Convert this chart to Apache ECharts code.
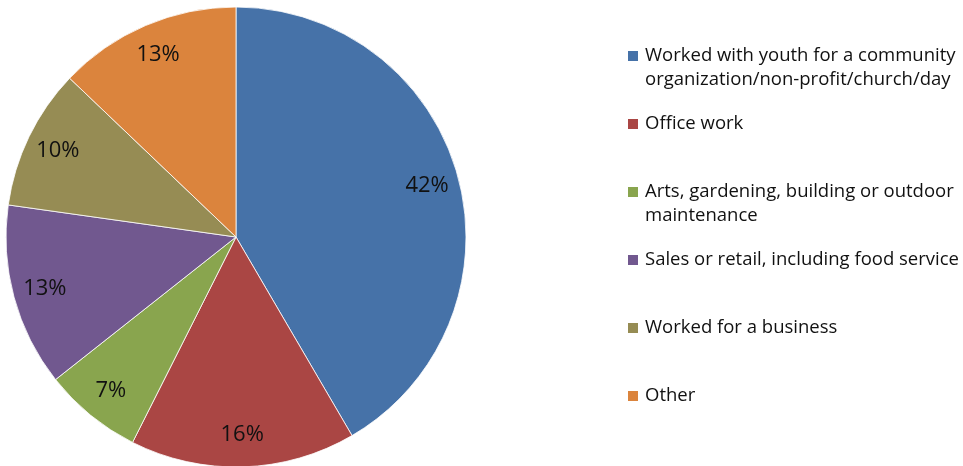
<!DOCTYPE html>
<html>
<head>
<meta charset="utf-8">
<script src="https://cdn.jsdelivr.net/npm/echarts@6/dist/echarts.min.js"></script>
<style>
  html, body { margin: 0; padding: 0; background: #fff; }
  #chart { width: 963px; height: 466px; }
</style>
</head>
<body>
<div id="chart"></div>
<script>
// categories (line breaks as wrapped in the legend)
let categories = [
  'Worked with youth for a community\norganization/non-profit/church/day',
  'Office work',
  'Arts, gardening, building or outdoor\nmaintenance',
  'Sales or retail, including food service',
  'Worked for a business',
  'Other'
]
let shares = [42, 16, 7, 13, 10, 13]
let colors = ['#4672A8', '#AA4644', '#89A54E', '#71588F', '#968C54', '#DB843D']

let pieData = categories.map((name, i) => {
  return { name: name, value: shares[i], itemStyle: { color: colors[i] } }
})

let myChart = echarts.init(document.getElementById('chart'))
let option = {
  animation: false,
  legend: {
    orient: 'vertical',
    left: 626,
    top: 20,
    padding: 0,
    itemWidth: 12,
    itemHeight: 12,
    itemGap: -4,
    icon: 'rect',
    selectedMode: false,
    data: categories,
    // keep the marker on the first text line
    formatter: function (name) {
      return '\n' + name + (name.indexOf('\n') < 0 ? '\n' : '')
    },
    textStyle: {
      fontFamily: 'Open Sans',
      fontSize: 18.5,
      lineHeight: 24,
      color: '#111',
      padding: [0, 0, 0, 1]
    }
  },
  series: [
    {
      name: 'main',
      type: 'pie',
      center: [236, 237],
      radius: [0, 230],
      startAngle: 90,
      clockwise: true,
      silent: true,
      label: { show: false },
      labelLine: { show: false },
      itemStyle: { borderColor: '#ffffff', borderWidth: 0.8 },
      data: pieData
    },
    {
      // transparent ring only used to place the percentage labels
      name: 'labels',
      type: 'pie',
      center: [236, 237],
      radius: [160, 230],
      startAngle: 90,
      clockwise: true,
      silent: true,
      itemStyle: { color: 'rgba(0,0,0,0)' },
      label: {
        show: true,
        position: 'inside',
        formatter: '{c}%',
        fontFamily: 'Open Sans',
        fontSize: 22,
        color: '#111'
      },
      labelLine: { show: false },
      data: categories.map((name, i) => ({ name: name, value: shares[i] }))
    }
  ]
}
myChart.setOption(option)
</script>
</body>
</html>
